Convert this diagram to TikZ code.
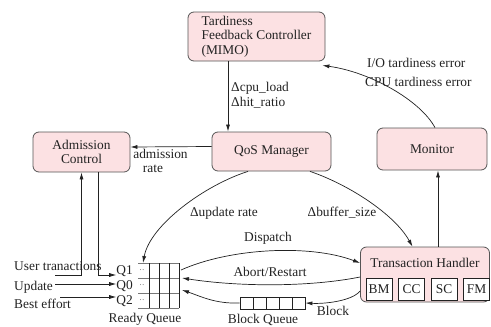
\documentclass[tikz,border=0pt]{standalone}
\usepackage{fontspec}
\setmainfont{Liberation Serif}
\usetikzlibrary{arrows.meta}
\definecolor{boxfill}{HTML}{FCE1E3}
\definecolor{boxline}{HTML}{555555}
\definecolor{ink}{HTML}{222222}
\definecolor{qgray}{HTML}{777777}

\begin{document}
\begin{tikzpicture}[x=1pt,y=-1pt,
  font=\fontsize{13.4}{14.5}\selectfont,
  every node/.style={text=ink},
  pbox/.style={draw=boxline, line width=0.8pt, fill=boxfill, rounded corners=6pt, inner sep=0pt},
  sub/.style={draw=ink, line width=0.8pt, fill=white, minimum width=26pt, minimum height=22pt, inner sep=0pt},
  lbl/.style={inner sep=0pt},
  arr/.style={draw=ink, line width=0.7pt, -{Latex[length=7pt,width=4pt]}},
  qline/.style={draw=qgray, line width=0.8pt},
  vline/.style={draw=ink, line width=0.8pt}]
\useasboundingbox (0,0) rectangle (491,327);

% main blocks
\node[pbox, minimum width=137pt, minimum height=49pt, align=left] (tfc) at (256.5,36.5)
  {Tardiness\\Feedback Controller\\(MIMO)};
\node[pbox, minimum width=119pt, minimum height=39pt] (qos) at (271.5,151.5) {QoS Manager};
\node[pbox, minimum width=97pt, minimum height=40pt, align=center] (adm) at (81.5,152) {Admission\\Control};
\node[pbox, minimum width=110pt, minimum height=42pt] (mon) at (432,149) {Monitor};
\node[pbox, minimum width=129pt, minimum height=55pt] (th) at (425,274.5) {};
\node[lbl] (thtitle) at (425,263) {Transaction Handler};
\node[sub] (bm) at (379,289) {BM};
\node[sub] (cc) at (411.5,289) {CC};
\node[sub] (sc) at (444,289) {SC};
\node[sub] (fm) at (476.5,289) {FM};

% ready queue
\foreach \y in {263,278,293,308} \draw[qline] (138,\y) -- (179,\y);
\foreach \x in {149,159,169,179} \draw[vline] (\x,263) -- (\x,308);
\node[lbl, anchor=east] (q1) at (133,271) {Q1};
\node[lbl, anchor=east] (q0) at (133,286) {Q0};
\node[lbl, anchor=east] (q2) at (133,301) {Q2};
\node[lbl, font=\scriptsize] (d1) at (142,271) {··};
\node[lbl, font=\scriptsize] (d0) at (142,286) {··};
\node[lbl, font=\scriptsize] (d2) at (142,301) {··};
\node[lbl] (rql) at (145,319) {Ready Queue};
\coordinate (rqtop) at (143,263);
\coordinate (rqo) at (181,270);
\coordinate (rqa) at (182,278);
\coordinate (rqb) at (182,290);

% block queue
\node[draw=ink, line width=0.8pt, minimum width=65pt, minimum height=12pt, inner sep=0pt] (bq) at (272.5,303) {};
\foreach \x in {253,266,279,292} \draw[vline] (\x,297) -- (\x,309);
\node[lbl] (bql) at (263,320) {Block Queue};

% labels
\node[lbl, anchor=west, align=left] (dl) at (231,95) {Δcpu\_load\\Δhit\_ratio};
\node[lbl] (admr1) at (160.5,154) {admission};
\node[lbl] (admr2) at (153,168.5) {rate};
\node[lbl] (upd) at (224,213) {Δupdate rate};
\node[lbl] (buf) at (342,213) {Δbuffer\_size};
\node[lbl, anchor=west] (ioerr) at (367,63) {I/O tardiness error};
\node[lbl, anchor=west] (cpuerr) at (365,82) {CPU tardiness error};
\node[lbl] (disp) at (268,238) {Dispatch};
\node[lbl] (abrt) at (270,272) {Abort/Restart};
\node[lbl] (blk) at (333,311) {Block};
\node[lbl, anchor=west] (ut) at (14,266) {User tranactions};
\node[lbl, anchor=west] (up) at (14,287) {Update};
\node[lbl, anchor=west] (be) at (14,304) {Best effort};

% connectors
\coordinate (tq) at (228,0);
\draw[arr] (tfc.south -| tq) -- (qos.north -| tq);
\draw[arr] ([yshift=5pt]qos.west) -- ([yshift=5pt]adm.east);
\draw[arr] ([xshift=-23.5pt]qos.south) .. controls (205,185) and (150,225) .. (rqtop);
\draw[arr] ([xshift=38.5pt]qos.south) .. controls (350,185) and (395,215) .. ([xshift=-12.5pt]th.north);
\draw[arr] ([xshift=3pt]mon.north) .. controls (420,100) and (370,72) .. ([xshift=-3pt,yshift=-4pt]tfc.south east);
\coordinate (thm) at ([xshift=13pt]th.north);
\draw[arr] (thm) -- (thm |- mon.south);
\draw[arr] (rqo) .. controls (230,248) and (310,244) .. ([yshift=11.5pt]th.west);
\draw[arr] ([yshift=-2.5pt]th.west) .. controls (310,287) and (240,287) .. (rqa);
\draw[arr] ([yshift=-16.5pt]th.west) .. controls (352,301) and (325,304) .. (bq.east);
\draw[arr] (bq.west) .. controls (215,304) and (200,296) .. (rqb);

% incoming work
\coordinate (utin) at (55,275);
\coordinate (updin) at (55,284);
\coordinate (bein) at (60,297);
\draw[arr] (utin) -| (adm.south);
\draw[arr] ([xshift=16.5pt]adm.south) |- (q1.west |- utin);
\draw[arr] (updin) -- (updin -| q0.west);
\draw[arr] (bein) -- (bein -| q2.west);
\end{tikzpicture}
\end{document}
